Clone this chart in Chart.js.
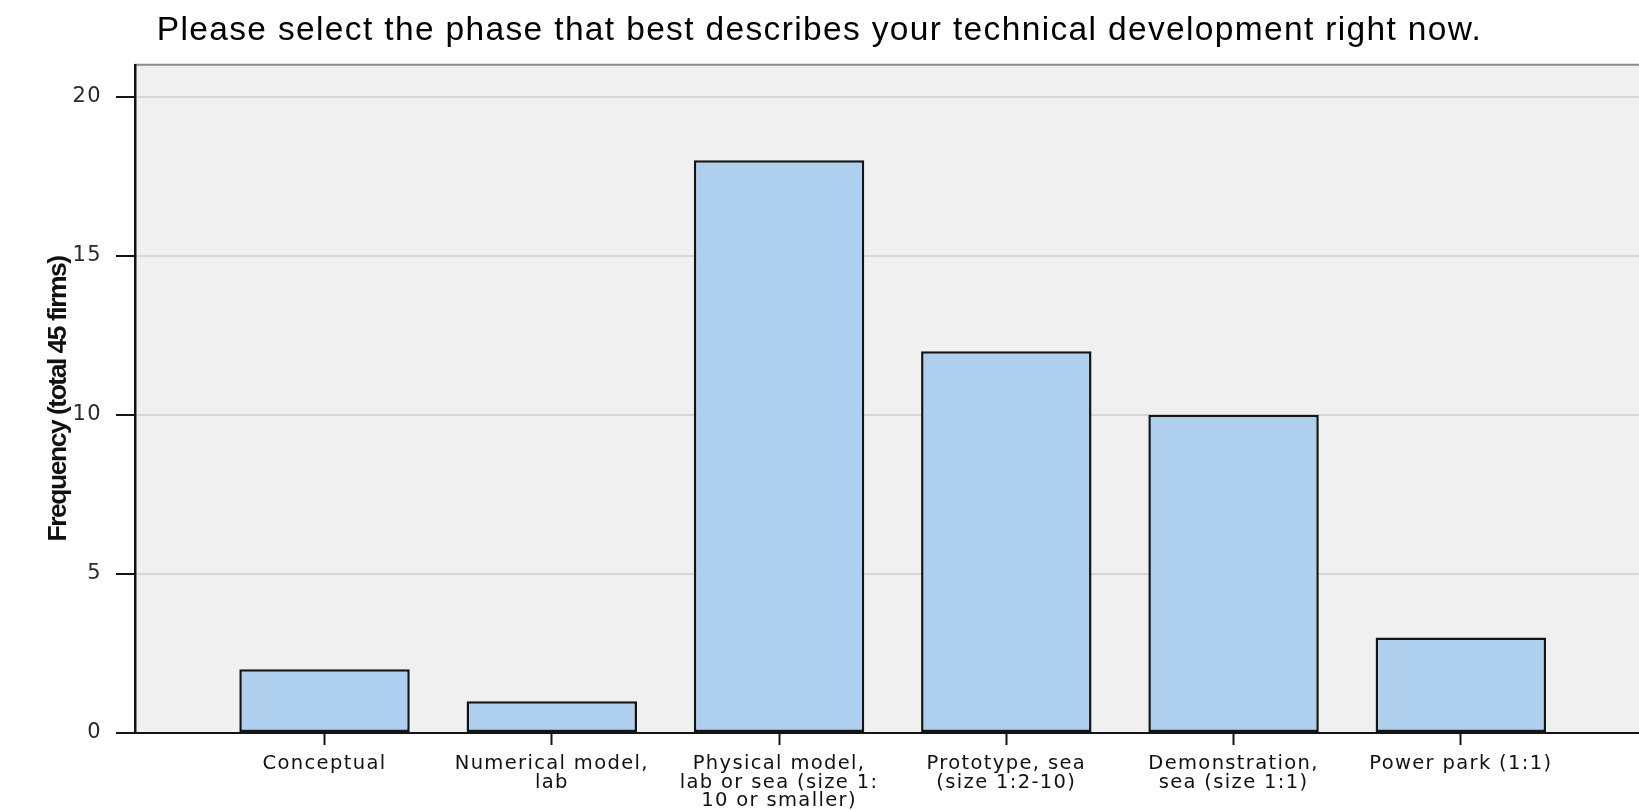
<!DOCTYPE html>
<html>
<head>
<meta charset="utf-8">
<script src="https://cdn.jsdelivr.net/npm/chart.js@4.4.1/dist/chart.umd.min.js"></script>
<style>
  html, body { margin: 0; padding: 0; background: #ffffff; overflow: hidden; }
  #wrap { width: 1639px; height: 810px; position: relative; }
</style>
</head>
<body>
<div id="wrap"><canvas id="chart"></canvas></div>
<script>
// ---- data ----
const chartTitle = 'Please select the phase that best describes your technical development right now.';
const yAxisTitle = 'Frequency (total 45 firms)';
const categories = [
  ['Conceptual'],
  ['Numerical model,', 'lab'],
  ['Physical model,', 'lab or sea (size 1:', '10 or smaller)'],
  ['Prototype, sea', '(size 1:2-10)'],
  ['Demonstration,', 'sea (size 1:1)'],
  ['Power park (1:1)']
];
const frequencies = [2, 1, 18, 12, 10, 3];
const yTickValues = [0, 5, 10, 15, 20];

// ---- styling helpers ----
const plotBackground = {
  id: 'plotBackground',
  beforeDraw(chart) {
    const {ctx, chartArea: a} = chart;
    ctx.save();
    ctx.fillStyle = '#f0f0f0';
    ctx.fillRect(a.left, a.top, a.right - a.left, a.bottom - a.top);
    ctx.strokeStyle = '#8c8c8c';
    ctx.lineWidth = 2;
    ctx.beginPath();
    ctx.moveTo(a.left, a.top);
    ctx.lineTo(a.right, a.top);
    ctx.stroke();
    ctx.restore();
    // title + tick labels: slightly expanded look
    ctx.letterSpacing = '1.35px';
  },
  afterDatasetsDraw(chart) {
    // condensed look for the vertical axis title (drawn in a later layer)
    chart.ctx.letterSpacing = '-1.5px';
  },
  afterDraw(chart) {
    chart.ctx.letterSpacing = '0px';
  }
};

const data = {
  datasets: [{
    data: frequencies.map((v, i) => ({x: i, y: v})),
    backgroundColor: '#aed0ee',
    borderColor: '#141414',
    borderWidth: 2.5,
    borderSkipped: false,
    categoryPercentage: 1,
    barPercentage: 0.75
  }]
};

new Chart(document.getElementById('chart'), {
  type: 'bar',
  data,
  plugins: [plotBackground],
  options: {
    responsive: true,
    maintainAspectRatio: false,
    animation: false,
    layout: { padding: 0 },
    plugins: {
      legend: { display: false },
      tooltip: { enabled: false },
      title: {
        display: true,
        text: chartTitle,
        color: '#000000',
        font: { family: "'Liberation Sans', Arial, sans-serif", size: 33.5, weight: 'normal', lineHeight: 1.2 },
        padding: { top: 11, bottom: 13.6 }
      }
    },
    scales: {
      x: {
        type: 'linear',
        offset: false,
        min: -0.834,
        max: 5.784,
        afterBuildTicks(scale) { scale.ticks = categories.map((c, i) => ({value: i})); },
        afterFit(scale) { scale.height = 77; },
        grid: {
          offset: false,
          drawOnChartArea: false,
          drawTicks: true,
          tickLength: 12,
          tickColor: '#141414',
          tickWidth: 2
        },
        border: { display: true, color: '#141414', width: 2 },
        ticks: {
          autoSkip: false,
          maxRotation: 0,
          minRotation: 0,
          padding: 10,
          color: '#111111',
          font: { family: "'DejaVu Sans', Verdana, sans-serif", size: 19.5, lineHeight: 0.94 },
          callback(value) {
            const c = categories[Math.round(value)];
            return c ? c : '';
          }
        }
      },
      y: {
        type: 'linear',
        min: 0,
        max: 21,
        weight: 0,
        afterBuildTicks(scale) { scale.ticks = yTickValues.map(v => ({value: v})); },
        afterFit(scale) { scale.width = 73; },
        grid: {
          color: '#d6d6d6',
          lineWidth: 2,
          drawTicks: true,
          tickLength: 19,
          tickColor: '#141414',
          tickWidth: 2
        },
        border: { display: true, color: '#141414', width: 2.5 },
        ticks: {
          padding: 14,
          color: '#2a2a2a',
          font: { family: "'DejaVu Sans', Verdana, sans-serif", size: 21 }
        }
      },
      yTitleAxis: {
        type: 'linear',
        position: 'left',
        display: true,
        weight: 1,
        afterFit(scale) { scale.width = 62; },
        grid: { display: false, drawTicks: false, z: 2 },
        border: { display: false },
        ticks: { display: false },
        title: {
          display: true,
          text: yAxisTitle,
          color: '#111111',
          font: { family: "'Liberation Sans', Arial, sans-serif", size: 26.5, weight: 'bold', lineHeight: 1.2 },
          padding: { top: 42.6, bottom: 0 }
        }
      }
    }
  }
});
</script>
</body>
</html>
